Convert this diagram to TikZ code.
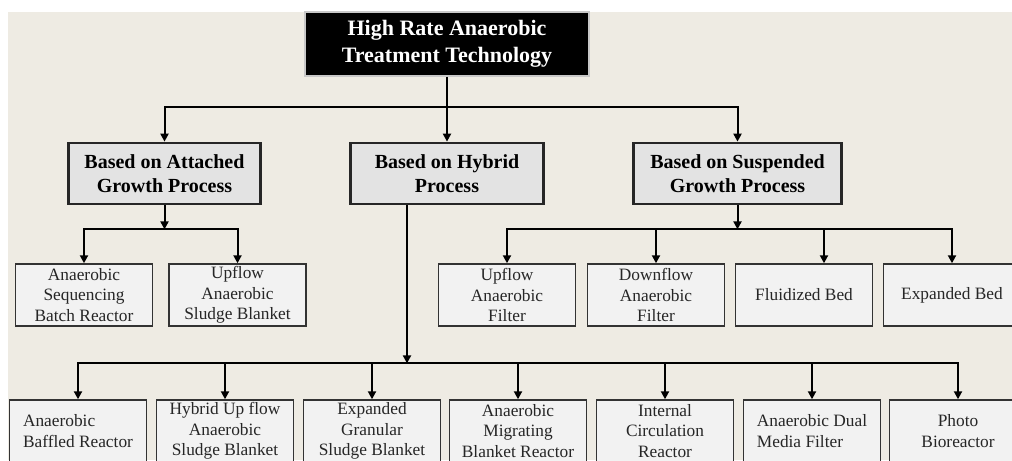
\documentclass[tikz,border=0pt]{standalone}
\usepackage{fontspec}
\setmainfont{Liberation Serif}
\usetikzlibrary{arrows.meta}

\begin{document}
\begin{tikzpicture}[x=0.75pt, y=-0.75pt]
    % Define colors
    \definecolor{paper}{RGB}{238,235,227}
    \definecolor{groupfill}{RGB}{227,227,227}
    \definecolor{leaffill}{RGB}{242,242,242}
    \definecolor{rootedge}{RGB}{200,200,200}

    % Define styles
    \tikzstyle{root} = [rectangle, draw=rootedge, line width=0.8pt, fill=black, text=white, minimum width=213pt, minimum height=48pt, align=center, font=\fontsize{16.5}{20}\selectfont\bfseries]
    \tikzstyle{group} = [rectangle, draw=black!85, line width=1.8pt, fill=groupfill, minimum height=46pt, align=center, font=\fontsize{15}{17.5}\selectfont\bfseries]
    \tikzstyle{leaf} = [rectangle, draw=black!80, line width=1.1pt, fill=leaffill, text=black!85, minimum width=102.5pt, minimum height=46.5pt, inner ysep=1pt, align=center, font=\fontsize{13}{15.5}\selectfont]
    \tikzstyle{link} = [line width=1.5pt, black]
    \tikzstyle{tip} = [link, -{Triangle[length=6pt, width=6pt]}]

    % Canvas
    \clip (0,0) rectangle (1012,460);
    \fill[paper] (8,12) rectangle (1012,460);

    % Title
    \node[root] (top) at (447,44) {High Rate Anaerobic\\Treatment Technology};

    % Process groups
    \node[group, minimum width=144pt] (attached) at (164.5,173.5) {Based on Attached\\Growth Process};
    \node[group, minimum width=145pt] (hybrid) at (447,173.5) {Based on Hybrid\\Process};
    \node[group, minimum width=156pt] (suspended) at (737.5,173.5) {Based on Suspended\\Growth Process};

    % Attached growth reactors
    \node[leaf] (asbr) at (84,295) {Anaerobic\\Sequencing\\Batch Reactor};
    \node[leaf] (uasb) at (237.5,295) {Upflow\\Anaerobic\\Sludge Blanket};

    % Suspended growth reactors
    \node[leaf] (upaf) at (507,295) {Upflow\\Anaerobic\\Filter};
    \node[leaf] (downaf) at (656,295) {Downflow\\Anaerobic\\Filter};
    \node[leaf] (fluid) at (804,295) {Fluidized Bed};
    \node[leaf] (expbed) at (952,295) {Expanded Bed};

    % Hybrid reactors
    \node[leaf, align=left] (abr) at (78,431) {Anaerobic\\Baffled Reactor};
    \node[leaf] (huasb) at (225,431) {Hybrid Up flow\\Anaerobic\\Sludge Blanket};
    \node[leaf] (egsb) at (372,431) {Expanded\\Granular\\Sludge Blanket};
    \node[leaf] (ambr) at (518,431) {Anaerobic\\Migrating\\Blanket Reactor};
    \node[leaf] (icr) at (665,431) {Internal\\Circulation\\Reactor};
    \node[leaf, align=left] (admf) at (812,431) {Anaerobic Dual\\Media Filter};
    \node[leaf] (photo) at (958,431) {Photo\\Bioreactor};

    % Arrows from title
    \draw[link] (top.south) -- ++(0,30) coordinate (split);
    \draw[tip] (split) -| (attached.north);
    \draw[tip] (split) -- (hybrid.north);
    \draw[tip] (split) -| (suspended.north);

    % Arrows from attached group
    \draw[tip] (attached.south) -- ++(0,24) coordinate (splitatt);
    \draw[tip] (splitatt) -| (asbr.north);
    \draw[tip] (splitatt) -| (uasb.north);

    % Arrows from suspended group
    \draw[tip] (suspended.south) -- ++(0,24) coordinate (splitsus);
    \draw[tip] (splitsus) -| (upaf.north);
    \draw[tip] (splitsus) -| (downaf.north);
    \draw[tip] (splitsus) -| ([xshift=15pt]fluid.north);
    \draw[tip] (splitsus) -| (expbed.north);

    % Arrows from hybrid group
    \draw[tip] ([xshift=-30pt]hybrid.south) -- ++(0,158) coordinate (splithyb);
    \draw[tip] (splithyb) -| (abr.north);
    \draw[tip] (splithyb) -| (huasb.north);
    \draw[tip] (splithyb) -| (egsb.north);
    \draw[tip] (splithyb) -| (ambr.north);
    \draw[tip] (splithyb) -| (icr.north);
    \draw[tip] (splithyb) -| (admf.north);
    \draw[tip] (splithyb) -| (photo.north);
\end{tikzpicture}
\end{document}
